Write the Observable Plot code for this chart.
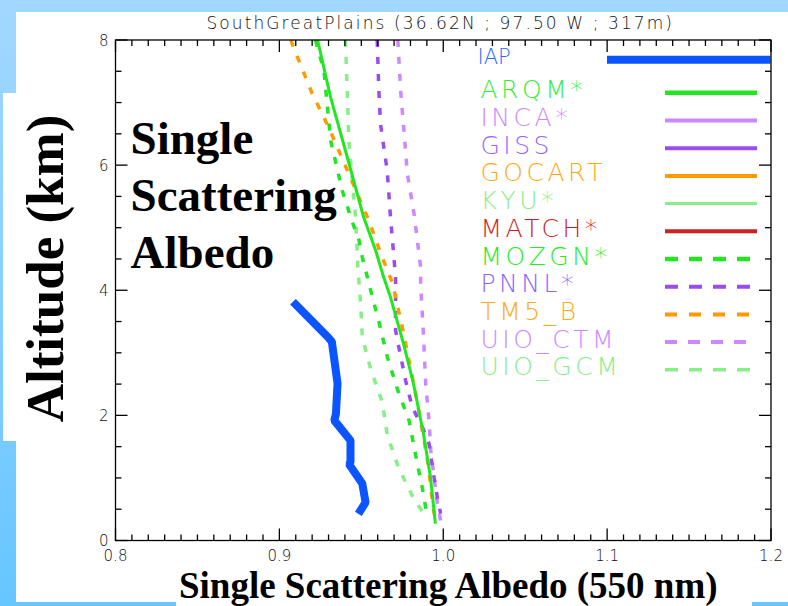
<!DOCTYPE html>
<html><head><meta charset="utf-8">
<script src="https://cdn.jsdelivr.net/npm/d3@7"></script>
<script src="https://cdn.jsdelivr.net/npm/@observablehq/plot@0.6"></script>
<style>
html,body{margin:0;padding:0;}
body{width:788px;height:606px;position:relative;overflow:hidden;background:linear-gradient(to bottom,#a2d8ff 0%,#86cfff 50%,#66c6ff 100%);}
#panel{position:absolute;left:16px;top:12px;width:772px;height:590px;background:#fff;}
#ybox{position:absolute;left:3px;top:93px;width:20px;height:348px;background:#fff;}
#xbox{position:absolute;left:176px;top:590px;width:576px;height:16px;background:#fff;}
#chart{position:absolute;left:0;top:0;}
.legtxt text{letter-spacing:3.5px;}
.ttl text{letter-spacing:2.1px;}
</style></head><body>
<div id="panel"></div><div id="ybox"></div><div id="xbox"></div><div id="chart"></div>
<script>
// ---------- data ----------
const title = "SouthGreatPlains (36.62N ; 97.50 W ; 317m)";
const xLabel = "Single Scattering Albedo (550 nm)";
const yLabel = "Altitude (km)";
const panelLabel = "Single\nScattering\nAlbedo";
const xTicks = [0.8, 0.9, 1.0, 1.1, 1.2];
const yTicks = [0, 2, 4, 6, 8];

const iapAlt = [3.77, 3.24, 3.18, 2.51, 2.02, 1.92, 1.60, 1.25, 1.22, 0.91, 0.61, 0.48];
const iapSsa = [0.910, 0.930, 0.932, 0.9355, 0.9345, 0.9335, 0.9434, 0.9434, 0.9425, 0.9506, 0.9526, 0.9495];

const arqmAlt = [8.0, 7.09, 6.13, 5.17, 4.64, 4.21, 3.89, 3.15, 2.51, 1.71, 1.01, 0.27];
const arqmSsa = [0.9233, 0.9312, 0.9414, 0.9514, 0.9587, 0.9636, 0.9678, 0.9757, 0.9818, 0.9879, 0.9922, 0.9952];

const mozgnAlt = [8.0, 7.51, 6.39, 5.59, 5.09, 4.80, 4.53, 4.0, 3.49, 2.93, 2.42, 1.92, 1.36, 0.83, 0.37];
const mozgnSsa = [0.922, 0.9272, 0.9313, 0.9384, 0.9445, 0.9486, 0.9506, 0.9557, 0.9608, 0.9659, 0.9720, 0.9791, 0.9832, 0.9873, 0.9903];

const pnnlAlt = [8.0, 7.19, 6.66, 5.91, 5.17, 4.21, 3.94, 3.36, 3.09, 2.56, 2.13, 1.81, 1.55, 1.01, 0.69, 0.43];
const pnnlSsa = [0.9597, 0.9607, 0.9617, 0.9658, 0.9678, 0.9709, 0.9709, 0.9709, 0.9729, 0.9770, 0.9811, 0.9873, 0.9913, 0.9944, 0.9964, 0.9984];

const tm5Alt = [8.0, 7.89, 7.14, 6.61, 5.87, 5.12, 4.59, 4.11, 3.31, 2.35, 1.65, 1.17, 0.59, 0.35];
const tm5Ssa = [0.907, 0.9085, 0.9201, 0.9300, 0.9422, 0.9545, 0.9618, 0.9691, 0.9758, 0.9831, 0.9880, 0.9911, 0.9935, 0.995];

const uioCtmAlt = [8.0, 7.94, 7.19, 6.55, 5.86, 5.22, 4.37, 4.10, 3.30, 2.50, 1.92, 1.44, 1.01, 0.59, 0.32];
const uioCtmSsa = [0.9722, 0.9724, 0.9740, 0.9760, 0.9781, 0.9822, 0.9862, 0.9862, 0.9879, 0.9893, 0.9913, 0.9924, 0.9944, 0.9964, 0.9984];

const uioGcmAlt = [8.0, 7.94, 7.19, 6.39, 5.75, 5.17, 4.37, 3.78, 3.25, 2.74, 2.21, 1.68, 1.15, 0.67, 0.43];
const uioGcmSsa = [0.9403, 0.9404, 0.9414, 0.9424, 0.9445, 0.9465, 0.9479, 0.9496, 0.9506, 0.9557, 0.9628, 0.9659, 0.9729, 0.9820, 0.9881];

const legendNames = ["ARQM*", "INCA*", "GISS", "GOCART", "KYU*", "MATCH*", "MOZGN*", "PNNL*", "TM5_B", "UIO_CTM", "UIO_GCM"];

// ---------- styles ----------
const sty = {
  "IAP":     {line:"#0a55ff", text:"#2a6bff", w:8,   lw:8,   dash:null},
  "ARQM*":   {line:"#22e622", text:"#33ee33", w:3,   lw:4.5, dash:null},
  "INCA*":   {line:"#cc88ff", text:"#cc88ff", w:3,   lw:4,   dash:null},
  "GISS":    {line:"#9a4cf0", text:"#9966ff", w:3,   lw:4,   dash:null},
  "GOCART":  {line:"#ff9a00", text:"#ffaa11", w:3,   lw:4,   dash:null},
  "KYU*":    {line:"#88ee88", text:"#88ee88", w:3,   lw:3,   dash:null},
  "MATCH*":  {line:"#cc2222", text:"#cc2222", w:3,   lw:4,   dash:null},
  "MOZGN*":  {line:"#22e622", text:"#22ee22", w:3.5, lw:4.5, dash:"13,11"},
  "PNNL*":   {line:"#9a4cf0", text:"#8866ff", w:3.5, lw:4,   dash:"13,11"},
  "TM5_B":   {line:"#ff9a00", text:"#ffaa11", w:3.5, lw:4,   dash:"12,12"},
  "UIO_CTM": {line:"#cc88ff", text:"#cc88ff", w:3.5, lw:4,   dash:"12,11"},
  "UIO_GCM": {line:"#88ee88", text:"#88ee88", w:3.5, lw:3.5, dash:"13,11"}
};
const plotDash = "7,10";

const zip = (a, s) => a.map((alt, i) => ({alt, ssa: s[i]}));
const series = [
  {name:"UIO_GCM", d: zip(uioGcmAlt, uioGcmSsa)},
  {name:"UIO_CTM", d: zip(uioCtmAlt, uioCtmSsa)},
  {name:"PNNL*",   d: zip(pnnlAlt, pnnlSsa)},
  {name:"MOZGN*",  d: zip(mozgnAlt, mozgnSsa)},
  {name:"TM5_B",   d: zip(tm5Alt, tm5Ssa)},
  {name:"ARQM*",   d: zip(arqmAlt, arqmSsa)},
  {name:"IAP",     d: zip(iapAlt, iapSsa)}
];

// ---------- layout ----------
const W = 788, H = 606;
const mL = 115, mR = 17.5, mT = 39.5, mB = 66;
const FW = W - mL - mR, FH = H - mT - mB;
const kmPerPx = 8 / FH, xPerPx = 0.4 / FW;
const pxY = py => (H - mB - py) * kmPerPx;   // page px -> km
const pxX = px => 0.8 + (px - mL) * xPerPx;   // page px -> ssa

const serif = "'Liberation Serif','Times New Roman',serif";
const sans = "'DejaVu Sans',sans-serif";

const majorX = xTicks;
const minorX = d3.range(80, 121).map(v => v / 100).filter(v => !majorX.some(m => Math.abs(m - v) < 1e-9));
const majorY = yTicks;
const minorY = d3.range(0, 17).map(v => v / 2).filter(v => !majorY.includes(v));

// inward tick segments on all four sides, built as 2-point paths
const tickLen = 12, minLen = 6;
const tickSegs = [];
let seg = 0;
const addX = (vals, len) => vals.forEach(v => {
  const dy = len * kmPerPx;
  tickSegs.push({k: seg, x: v, y: 0}, {k: seg, x: v, y: dy}); seg++;
  tickSegs.push({k: seg, x: v, y: 8}, {k: seg, x: v, y: 8 - dy}); seg++;
});
const addY = (vals, len) => vals.forEach(v => {
  const dx = len * xPerPx;
  tickSegs.push({k: seg, x: 0.8, y: v}, {k: seg, x: 0.8 + dx, y: v}); seg++;
  tickSegs.push({k: seg, x: 1.2, y: v}, {k: seg, x: 1.2 - dx, y: v}); seg++;
});
addX(majorX, tickLen); addX(minorX, minLen); addY(majorY, tickLen); addY(minorY, minLen);

const marks = [];

// data lines
for (const s of series) {
  const st = sty[s.name];
  marks.push(Plot.line(s.d, {
    x: "ssa", y: "alt", stroke: st.line, strokeWidth: st.w,
    strokeDasharray: s.name === "IAP" || s.name === "ARQM*" ? null : plotDash,
    strokeLinecap: s.name === "IAP" ? "square" : "butt",
    strokeLinejoin: "miter"
  }));
}

// legend
const legTextX = pxX(480), legX1 = pxX(665), legX2 = pxX(757);
const legTop = pxY(92.3), legStep = 27.7 * kmPerPx;
marks.push(Plot.ruleY(["IAP"], {y: pxY(59.3), x1: pxX(607), x2: 1.2, stroke: sty.IAP.line, strokeWidth: sty.IAP.lw}));
marks.push(Plot.text(["IAP"], {x: pxX(477), y: pxY(57), text: d => d, textAnchor: "start", fontSize: 21, fontFamily: sans, fontWeight: 200, fill: sty.IAP.text}));
legendNames.forEach((n, i) => {
  const st = sty[n];
  const yy = legTop - i * legStep;
  marks.push(Plot.ruleY([n], {y: yy, x1: legX1, x2: legX2, stroke: st.line, strokeWidth: st.lw, strokeDasharray: st.dash}));
  marks.push(Plot.text([n], {x: legTextX, y: yy + 2.5 * kmPerPx, text: d => d, textAnchor: "start", fontSize: 25, fontFamily: sans, fontWeight: 200, fill: st.text, className: "legtxt"}));
});

// titles
marks.push(Plot.text([title], {frameAnchor: "top", dx: -3, dy: -11, lineAnchor: "bottom", fontSize: 17, fontFamily: sans, fontWeight: 200, fill: "#111", className: "ttl"}));
marks.push(Plot.text([panelLabel], {frameAnchor: "top-left", dx: 15, dy: 74, textAnchor: "start", lineAnchor: "top", lineHeight: 1.206, fontSize: 47, fontWeight: "bold", fontFamily: serif, fill: "black"}));
marks.push(Plot.text([yLabel], {frameAnchor: "left", rotate: -90, textAnchor: "middle", dx: -53, dy: -21.75, lineAnchor: "bottom", fontSize: 53, fontWeight: "bold", fontFamily: serif, fill: "black"}));
marks.push(Plot.text([xLabel], {frameAnchor: "bottom", textAnchor: "middle", dx: 5, dy: 57, lineAnchor: "bottom", fontSize: 37, fontWeight: "bold", fontFamily: serif, fill: "black"}));

// tick labels
marks.push(Plot.axisX({ticks: xTicks, tickSize: 0, tickPadding: 10, tickFormat: d => d.toFixed(1), fontSize: 15, fontFamily: sans, fontWeight: 200, fill: "#111", label: null}));
marks.push(Plot.axisY({ticks: yTicks, tickSize: 0, tickPadding: 7, tickFormat: d => String(d), fontSize: 15, fontFamily: sans, fontWeight: 200, fill: "#111", label: null, dy: 1}));

// ticks and frame
marks.push(Plot.line(tickSegs, {x: "x", y: "y", z: "k", stroke: "#000", strokeWidth: 1.3, strokeLinecap: "butt"}));
marks.push(Plot.frame({stroke: "black", strokeWidth: 1.3}));

const chart = Plot.plot({
  width: W, height: H,
  marginLeft: mL, marginRight: mR, marginTop: mT, marginBottom: mB,
  x: {domain: [0.8, 1.2]},
  y: {domain: [0, 8]},
  style: {background: "transparent", overflow: "visible"},
  marks
});
document.getElementById("chart").appendChild(chart);
</script>
</body></html>
